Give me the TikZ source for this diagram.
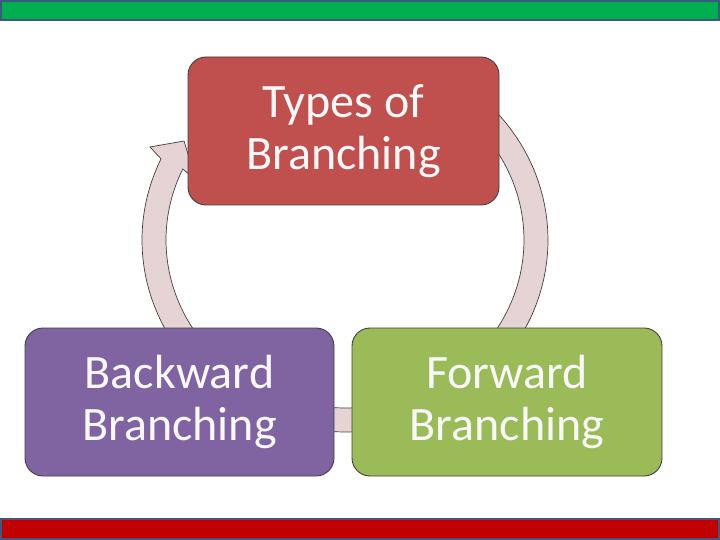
\documentclass[tikz,border=0pt]{standalone}
\usepackage{fontspec}
\setmainfont{Carlito}
\definecolor{topred}{HTML}{C0504D}
\definecolor{backpurple}{HTML}{8064A2}
\definecolor{fwdgreen}{HTML}{9BBB59}
\definecolor{ringpink}{HTML}{E6D3D3}
\definecolor{bargreen}{HTML}{00B050}
\definecolor{barred}{HTML}{C00000}
\definecolor{barframe}{HTML}{3A5A80}
\definecolor{boxtext}{HTML}{F8F8F8}
\begin{document}
\begin{tikzpicture}[x=1pt,y=-1pt,
  box/.style={rounded corners=18pt, minimum width=310pt, minimum height=148pt,
    draw=black!75, line width=0.9pt, text=boxtext, align=center,
    font=\fontsize{48}{52}\selectfont, inner sep=0pt},
  band/.style={fill=ringpink, draw=black!75, line width=0.7pt},
  bar/.style={draw=barframe, line width=2pt}]
\useasboundingbox (0,0) rectangle (720,540);
% bars
\fill[white] (0,0) rectangle (720,540);
\draw[bar, fill=bargreen] (1,1) rectangle (719,20);
\draw[bar, fill=barred] (1,519) rectangle (719,539);
% ring: right + bottom band (heads hidden under boxes)
\draw[band] plot[domain=60:-135, samples=80] ({345+203*cos(\x)},{240-192*sin(\x)})
  -- plot[domain=-135:60, samples=80] ({345+179*cos(\x)},{240-168*sin(\x)}) -- cycle;
% left arrow with head
\draw[band] plot[domain=215:155, samples=50] ({345+203*cos(\x)},{240-192*sin(\x)})
  -- (150,147) -- (184,141) -- (196,180)
  -- plot[domain=155:215, samples=50] ({345+179*cos(\x)},{240-168*sin(\x)}) -- cycle;
% boxes
\node[box, fill=topred, minimum width=311pt] (types) at (343.5,131) {Types of\\Branching};
\node[box, fill=backpurple, minimum width=309pt] (backward) at (179.5,402) {Backward\\Branching};
\node[box, fill=fwdgreen] (forward) at (507,402) {Forward\\Branching};
\end{tikzpicture}
\end{document}
